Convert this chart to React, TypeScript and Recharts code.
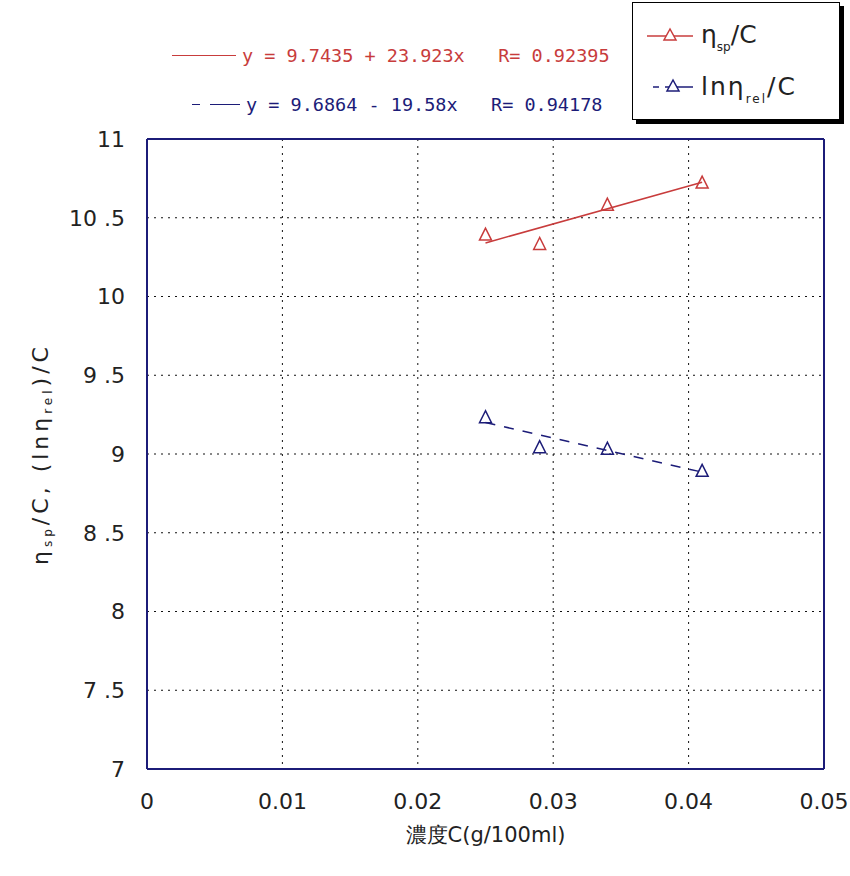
import {
  ComposedChart,
  Scatter,
  XAxis,
  YAxis,
  CartesianGrid,
  Label,
  ReferenceLine,
} from 'recharts';

const RED = '#c83c3c';
const BLUE = '#1c1c78';
const FONT = '"DejaVu Sans", sans-serif';
const MONO = '"DejaVu Sans Mono", monospace';

// measured points
const concentrations = [0.025, 0.029, 0.034, 0.041];
const etaSpOverC = [10.39, 10.33, 10.58, 10.72];
const lnEtaRelOverC = [9.23, 9.04, 9.03, 8.89];

// fitted line end points
const fitX = [0.025, 0.041];
const fitRed = [10.34, 10.725];
const fitBlue = [9.2, 8.885];

const xTicks = [0, 0.01, 0.02, 0.03, 0.04, 0.05];
const yTicks = [7, 7.5, 8, 8.5, 9, 9.5, 10, 10.5, 11];

const redPoints = concentrations.map((x, i) => ({ x, y: etaSpOverC[i] }));
const bluePoints = concentrations.map((x, i) => ({ x, y: lnEtaRelOverC[i] }));
const redFit = fitX.map((x, i) => ({ x, y: fitRed[i] }));
const blueFit = fitX.map((x, i) => ({ x, y: fitBlue[i] }));

function triangle(color: string) {
  return (props: any) => {
    const { cx, cy } = props;
    if (cx == null || cy == null) return <g />;
    return (
      <polygon
        points={`${cx},${cy - 7} ${cx - 6},${cy + 5} ${cx + 6},${cy + 5}`}
        fill="none"
        stroke={color}
        strokeWidth={1.5}
      />
    );
  };
}

const noDot = () => <g />;

const tickStyle = { fontSize: 22, fill: '#222', fontFamily: FONT };

function YTitle(props: any) {
  const vb = props.viewBox || {};
  const cx = 42;
  const cy = vb.y + vb.height / 2;
  return (
    <text
      x={cx}
      y={cy}
      transform={`rotate(-90, ${cx}, ${cy})`}
      textAnchor="middle"
      dominantBaseline="middle"
      fontFamily={FONT}
      fontSize={22}
      letterSpacing={4}
      fill="#222"
    >
      η<tspan fontSize={12} dy={6}>sp</tspan>
      <tspan dy={-6}>/C, (lnη</tspan>
      <tspan fontSize={12} dy={6}>rel</tspan>
      <tspan dy={-6}>)/C</tspan>
    </text>
  );
}

export default function App() {
  return (
    <div style={{ position: 'absolute', left: 0, top: 0, width: 850, height: 876, background: '#fff' }}>
      <ComposedChart
        width={850}
        height={876}
        margin={{ top: 139, right: 26, bottom: 77, left: 87 }}
      >
        <CartesianGrid stroke="#111" strokeDasharray="2 5" />
        <XAxis
          type="number"
          dataKey="x"
          domain={[0, 0.05]}
          ticks={xTicks}
          tickFormatter={(v: number) => (v === 0 ? '0' : v.toFixed(2))}
          tick={tickStyle}
          tickLine={false}
          axisLine={{ stroke: BLUE, strokeWidth: 2 }}
          tickMargin={18}
          allowDataOverflow
        >
          <Label
            value="濃度C(g/100ml)"
            position="bottom"
            offset={28}
            style={{ fontSize: 21, fill: '#222', fontFamily: FONT }}
          />
        </XAxis>
        <YAxis
          type="number"
          dataKey="y"
          domain={[7, 11]}
          ticks={yTicks}
          tickFormatter={(v: number) => (Number.isInteger(v) ? String(v) : v.toFixed(1).replace('.', ' .'))}
          tick={tickStyle}
          tickLine={false}
          axisLine={{ stroke: BLUE, strokeWidth: 2 }}
          tickMargin={16}
          width={60}
          allowDataOverflow
        >
          <Label content={<YTitle />} />
        </YAxis>
        <ReferenceLine x={0.05} stroke={BLUE} strokeWidth={2} />
        <ReferenceLine y={11} stroke={BLUE} strokeWidth={2} />
        <Scatter
          data={redFit}
          line={{ stroke: RED, strokeWidth: 1.5 }}
          shape={noDot}
          isAnimationActive={false}
        />
        <Scatter
          data={blueFit}
          line={{ stroke: BLUE, strokeWidth: 1.5, strokeDasharray: '10 9' }}
          shape={noDot}
          isAnimationActive={false}
        />
        <Scatter data={redPoints} shape={triangle(RED)} isAnimationActive={false} />
        <Scatter data={bluePoints} shape={triangle(BLUE)} isAnimationActive={false} />
      </ComposedChart>

      {/* fit equations */}
      <div style={{ position: 'absolute', left: 172, top: 45, fontFamily: MONO, fontSize: 18.5, color: RED, whiteSpace: 'pre', display: 'flex', alignItems: 'center' }}>
        <span style={{ display: 'inline-block', width: 64, borderTop: `1.5px solid ${RED}`, marginRight: 6 }} />
        <span>y = 9.7435 + 23.923x   R= 0.92395</span>
      </div>
      <div style={{ position: 'absolute', left: 192, top: 94, fontFamily: MONO, fontSize: 18.5, color: BLUE, whiteSpace: 'pre', display: 'flex', alignItems: 'center' }}>
        <span style={{ display: 'inline-block', width: 8, borderTop: `1.5px solid ${BLUE}`, marginRight: 10 }} />
        <span style={{ display: 'inline-block', width: 30, borderTop: `1.5px solid ${BLUE}`, marginRight: 6 }} />
        <span>y = 9.6864 - 19.58x   R= 0.94178</span>
      </div>

      {/* legend box */}
      <div
        style={{
          position: 'absolute',
          left: 632,
          top: 2,
          width: 206,
          height: 116,
          border: '1.5px solid #000',
          boxShadow: '4px 4px 0 #000',
          background: '#fff',
        }}
      >
        <svg width={206} height={116} style={{ position: 'absolute', left: 0, top: 0 }}>
          <line x1={14} y1={33} x2={60} y2={33} stroke={RED} strokeWidth={1.5} />
          <polygon points="37,26 31,37 43,37" fill="#fff" stroke={RED} strokeWidth={1.5} />
          <line x1={20} y1={84} x2={26} y2={84} stroke={BLUE} strokeWidth={1.5} />
          <line x1={32} y1={84} x2={60} y2={84} stroke={BLUE} strokeWidth={1.5} />
          <polygon points="40,77 34,88 46,88" fill="#fff" stroke={BLUE} strokeWidth={1.5} />
          <text x={68} y={40} fontFamily={FONT} fontSize={25} fill="#222">
            η<tspan fontSize={12} dy={8}>sp</tspan>
            <tspan dy={-8}>/C</tspan>
          </text>
          <text x={68} y={92} fontFamily={FONT} fontSize={25} letterSpacing={2} fill="#222">
            lnη<tspan fontSize={12} dy={8}>rel</tspan>
            <tspan dy={-8}>/C</tspan>
          </text>
        </svg>
      </div>
    </div>
  );
}
